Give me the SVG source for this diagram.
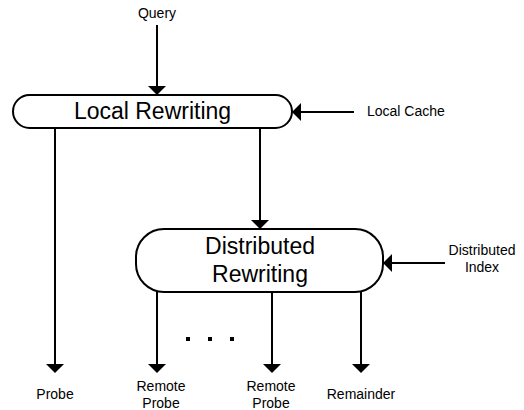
<svg xmlns="http://www.w3.org/2000/svg" width="524" height="410" viewBox="0 0 524 410">
  <style>
    .box { fill: #ffffff; stroke: #000000; stroke-width: 2; }
    .big { font-family: "Liberation Sans", Arial, sans-serif; font-size: 23px; fill: #000000; text-anchor: middle; }
    .lbl { font-family: "Liberation Sans", Arial, sans-serif; font-size: 14px; fill: #000000; text-anchor: middle; }
    .conn { fill: none; stroke: #000000; stroke-width: 2; marker-end: url(#arrow); }
    .dot { fill: #000000; }
  </style>
  <defs>
    <marker id="arrow" markerUnits="userSpaceOnUse" markerWidth="9" markerHeight="18" refX="6" refY="9" orient="auto" overflow="visible">
      <path d="M0,0 L9,9 L0,18 Z" fill="#000000"/>
    </marker>
  </defs>
  <rect width="524" height="410" fill="#ffffff"/>

  <g id="connectors">
    <path class="conn" d="M157,25 V92"/>
    <path class="conn" d="M354,112 H295"/>
    <path class="conn" d="M55,128 V370"/>
    <path class="conn" d="M260,128 V226"/>
    <path class="conn" d="M445,263 H386"/>
    <path class="conn" d="M157,292 V370"/>
    <path class="conn" d="M272,292 V370"/>
    <path class="conn" d="M361,292 V370"/>
  </g>

  <g id="local-rewriting">
    <rect class="box" x="13" y="95" width="279" height="33" rx="16.5" ry="16.5"/>
    <text class="big" x="152.5" y="119">Local Rewriting</text>
  </g>

  <g id="distributed-rewriting">
    <rect class="box" x="136" y="229" width="247" height="63" rx="28" ry="28"/>
    <text class="big" x="260" y="254">Distributed</text>
    <text class="big" x="260" y="282">Rewriting</text>
  </g>

  <g id="query">
    <text class="lbl" x="157" y="18">Query</text>
  </g>
  <g id="local-cache">
    <text class="lbl" x="367" y="116" style="text-anchor:start">Local Cache</text>
  </g>
  <g id="distributed-index">
    <text class="lbl" x="482" y="255">Distributed</text>
    <text class="lbl" x="482" y="272">Index</text>
  </g>
  <g id="probe">
    <text class="lbl" x="55" y="399">Probe</text>
  </g>
  <g id="remote-probe-1">
    <text class="lbl" x="161" y="391">Remote</text>
    <text class="lbl" x="161" y="408">Probe</text>
  </g>
  <g id="remote-probe-2">
    <text class="lbl" x="271" y="391">Remote</text>
    <text class="lbl" x="271" y="408">Probe</text>
  </g>
  <g id="remainder">
    <text class="lbl" x="361" y="399">Remainder</text>
  </g>
  <g id="ellipsis">
    <rect class="dot" x="186" y="337" width="4" height="4"/>
    <rect class="dot" x="208" y="337" width="4" height="4"/>
    <rect class="dot" x="230" y="337" width="4" height="4"/>
  </g>
</svg>
